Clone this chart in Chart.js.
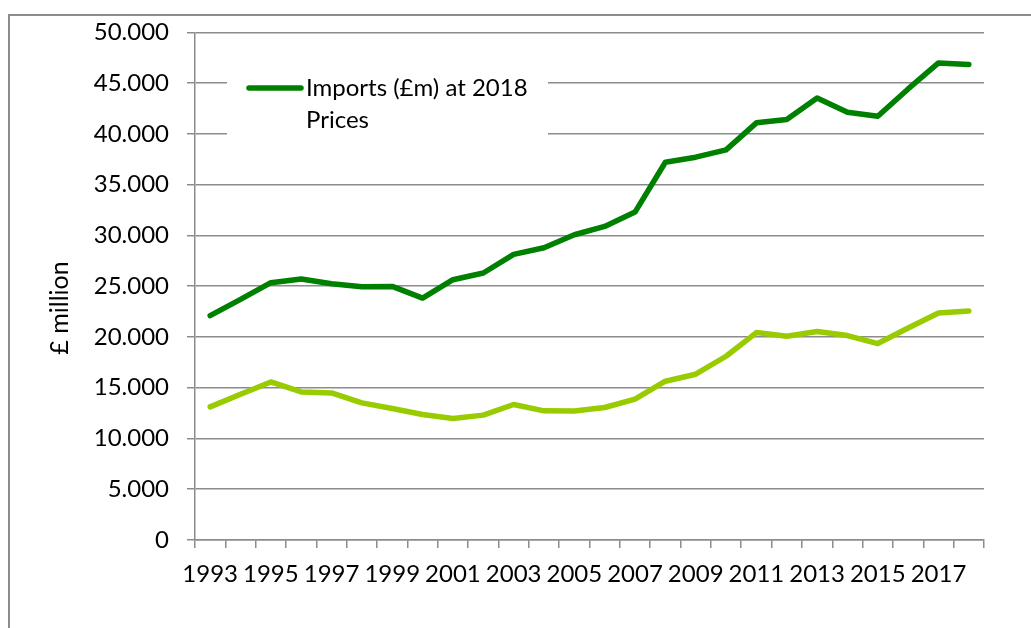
<!DOCTYPE html>
<html>
<head>
<meta charset="utf-8">
<script src="https://cdn.jsdelivr.net/npm/chart.js@4"></script>
<style>
  html, body { margin: 0; padding: 0; background: #fff; overflow: hidden; }
  #wrap { position: relative; width: 1031px; height: 628px; }
  #frame {
    position: absolute; left: 8px; top: 14px; width: 1100px; height: 700px;
    border-left: 2px solid #8c8c8c; border-top: 2px solid #8c8c8c;
  }
  #chart { position: absolute; left: 0; top: 0; }
</style>
</head>
<body>
<div id="wrap">
  <div id="frame"></div>
  <canvas id="chart" width="1031" height="628"></canvas>
</div>
<script>
// Imports (dark green) and second series (light green), £m at 2018 prices
const years = ['1993','1994','1995','1996','1997','1998','1999','2000','2001','2002','2003','2004','2005',
  '2006','2007','2008','2009','2010','2011','2012','2013','2014','2015','2016','2017','2018'];
const importsReal = [22100, 23700, 25350, 25700, 25250, 24950, 24980, 23830, 25640, 26300, 28130, 28790, 30070,
  30890, 32300, 37210, 37710, 38430, 41090, 41410, 43540, 42130, 41740, 44430, 46990, 46850];
const secondSeries = [13110, 14360, 15570, 14590, 14490, 13510, 12950, 12360, 11970, 12300, 13350, 12720, 12700,
  13050, 13870, 15640, 16330, 18100, 20430, 20070, 20530, 20140, 19350, 20880, 22360, 22560];
const yTicksMax = 50000;
const yStep = 5000;

const FONT = 'Lato, "Open Sans", sans-serif';
const GRID = '#8c8c8c';
const DARK = '#008000';
const LIGHT = '#99cc00';

// Excel-style legend box over the plot (text wrapped to two lines) + axis title
const extras = {
  id: 'extras',
  afterDraw(chart) {
    const ctx = chart.ctx;
    ctx.save();
    ctx.fillStyle = '#fff';
    ctx.fillRect(227, 60, 321, 90);
    ctx.strokeStyle = DARK;
    ctx.lineWidth = 5.5;
    ctx.lineCap = 'round';
    ctx.beginPath();
    ctx.moveTo(249, 88);
    ctx.lineTo(301, 88);
    ctx.stroke();
    ctx.fillStyle = '#000';
    ctx.font = '24px ' + FONT;
    ctx.textBaseline = 'middle';
    ctx.fillText('Imports (£m) at 2018', 306, 88);
    ctx.fillText('Prices', 306, 120);

    // y axis title
    ctx.translate(60, 308);
    ctx.rotate(-Math.PI / 2);
    ctx.textAlign = 'center';
    ctx.font = '25px ' + FONT;
    ctx.fillText('£ million', 0, 0);
    ctx.restore();
  }
};

new Chart(document.getElementById('chart'), {
  type: 'line',
  data: {
    labels: years,
    datasets: [
      {
        label: 'Imports (£m) at 2018 Prices',
        data: importsReal,
        borderColor: DARK,
        borderWidth: 5.5,
        pointRadius: 0,
        tension: 0,
        borderCapStyle: 'round',
        borderJoinStyle: 'round'
      },
      {
        label: 'Series 2',
        data: secondSeries,
        borderColor: LIGHT,
        borderWidth: 5.5,
        pointRadius: 0,
        tension: 0,
        borderCapStyle: 'round',
        borderJoinStyle: 'round'
      }
    ]
  },
  options: {
    responsive: false,
    animation: false,
    layout: { padding: { top: 32, right: 47, left: 0, bottom: 0 } },
    plugins: {
      legend: { display: false },
      tooltip: { enabled: false }
    },
    scales: {
      x: {
        offset: true,
        border: { display: true, color: GRID, width: 1.5 },
        grid: { display: true, drawOnChartArea: false, drawTicks: true, tickLength: 8, offset: true, color: GRID, lineWidth: 1.5 },
        ticks: {
          autoSkip: false,
          maxRotation: 0,
          padding: 12,
          color: '#000',
          font: { size: 24, family: FONT },
          callback: (val, i) => i % 2 === 0 ? years[i] : ''
        },
        afterFit: (scale) => { scale.height = 88; }
      },
      y: {
        min: 0,
        max: yTicksMax,
        border: { display: true, color: GRID, width: 1.5 },
        grid: { color: GRID, lineWidth: 1.5, tickLength: 8 },
        ticks: {
          stepSize: yStep,
          padding: 18,
          color: '#000',
          font: { size: 24, family: FONT },
          callback: (val) => val.toLocaleString('de-DE')
        },
        afterFit: (scale) => { scale.width = 195; }
      }
    }
  },
  plugins: [extras]
});
</script>
</body>
</html>
